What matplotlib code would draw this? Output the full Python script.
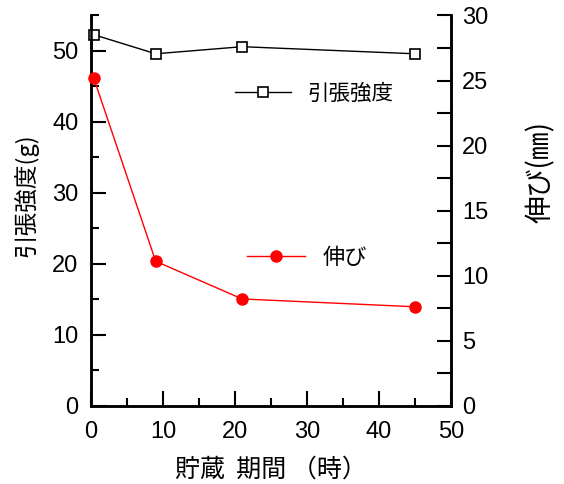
import matplotlib
matplotlib.use("Agg")
import matplotlib.pyplot as plt
from matplotlib.ticker import MultipleLocator
from matplotlib.lines import Line2D

plt.rcParams['font.family'] = ['Liberation Sans', 'Noto Sans CJK JP', 'DejaVu Sans']

# storage time (hours)
hours = [0.4, 9, 21, 45]
# tensile strength (g), left axis
strength = [52.3, 49.6, 50.6, 49.6]
# elongation (mm), right axis
elongation = [25.2, 11.1, 8.2, 7.6]

jp = ['Noto Sans CJK JP', 'DejaVu Sans']

fig = plt.figure(figsize=(5.64, 4.84), dpi=100)
ax = fig.add_axes([0.161, 0.162, 0.639, 0.806])
ax2 = ax.twinx()

ax.plot(hours, strength, color='black', lw=1.0, marker='s', ms=6.5,
        mfc='white', mec='black', mew=1.2, clip_on=False, zorder=5)
ax2.plot(hours, elongation, color='red', lw=1.0, marker='o', ms=8,
         mfc='red', mec='red', clip_on=False, zorder=5)

ax.set_xlim(0, 50)
ax.set_ylim(0, 55)
ax2.set_ylim(0, 30)

ax.xaxis.set_major_locator(MultipleLocator(10))
ax.xaxis.set_minor_locator(MultipleLocator(5))
ax.yaxis.set_major_locator(MultipleLocator(10))
ax.yaxis.set_minor_locator(MultipleLocator(5))
ax2.yaxis.set_major_locator(MultipleLocator(5))
ax2.yaxis.set_minor_locator(MultipleLocator(2.5))

for a in (ax, ax2):
    a.spines['top'].set_visible(False)
    for s in a.spines.values():
        s.set_linewidth(1.8)

ax.tick_params(axis='x', which='major', direction='in', length=11, width=1.5,
               labelsize=17, pad=11)
ax.tick_params(axis='x', which='minor', direction='in', length=6, width=1.5)
ax.tick_params(axis='y', which='major', direction='in', length=11, width=1.5,
               labelsize=17, pad=9)
ax.tick_params(axis='y', which='minor', direction='in', length=6, width=1.5)
ax2.tick_params(axis='y', which='both', direction='in', length=10, width=1.5,
                labelsize=17, pad=8)

ax.set_xlabel('貯蔵  期間 （時）', family=jp, fontsize=18, labelpad=10)
ax.set_ylabel('引張強度(g)', family=jp, fontsize=17)
ax.yaxis.set_label_coords(-0.145, 0.54)
ax2.set_ylabel('伸び(㎜)', family=jp, fontsize=20, rotation=90, va='center')
ax2.yaxis.set_label_coords(1.25, 0.6)

h1 = Line2D([], [], color='black', lw=1.0, marker='s', ms=6.5, mfc='white',
            mec='black', mew=1.2)
h2 = Line2D([], [], color='red', lw=1.0, marker='o', ms=8, mfc='red', mec='red')

leg1 = ax2.legend([h1], ['引張強度'], loc='center', bbox_to_anchor=(0.62, 0.8),
                  frameon=False, prop={'family': jp, 'size': 15.5},
                  handlelength=2.6, handletextpad=0.8)
ax2.add_artist(leg1)
ax2.legend([h2], ['伸び'], loc='center', bbox_to_anchor=(0.6, 0.38),
           frameon=False, prop={'family': jp, 'size': 16},
           handlelength=2.6, handletextpad=0.8)

fig.savefig('out.png', dpi=100)
